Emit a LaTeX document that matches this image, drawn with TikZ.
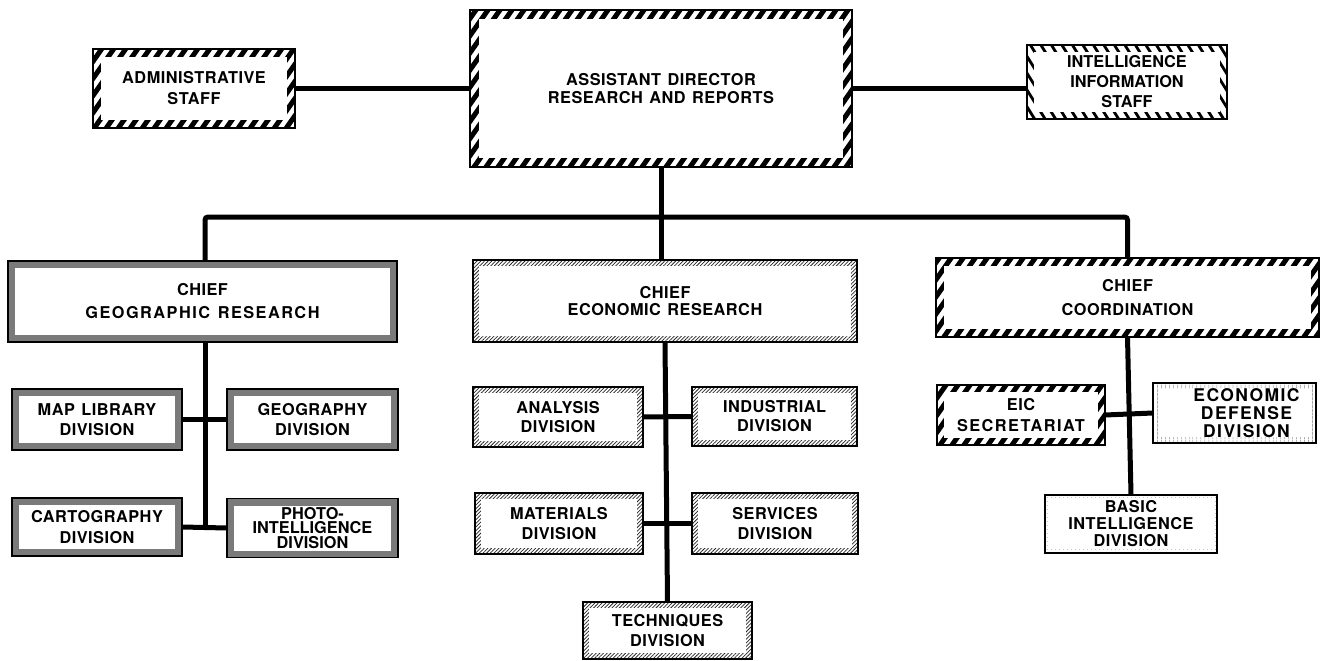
\documentclass[tikz,border=0pt]{standalone}
\usepackage{fontspec}
\usetikzlibrary{patterns.meta}
\newfontfamily\lblfont{TeX Gyre Heros}[LetterSpace=3,WordSpace=1.3]
\newcommand\lbl[1]{\lblfont\bfseries\fontsize{16.3}{#1}\selectfont}
\newcommand\lsp[1]{\addfontfeatures{LetterSpace=#1}}
\tikzset{
  box/.style={draw, inner sep=0pt, outer sep=0pt, align=center, font=\lbl{20}},
  banded/.style 2 args={path picture={
    \fill[#1] (path picture bounding box.south west) rectangle (path picture bounding box.north east);
    \fill[white] ([xshift=#2,yshift=#2]path picture bounding box.south west) rectangle ([xshift=-#2,yshift=-#2]path picture bounding box.north east);}},
  hatch/.style n args={5}{path picture={
    \foreach \k in {0,...,#4} {
      \pgfmathsetmacro\hx{(\k-#4/2)*#2}
      \draw[line width=#3] ([xshift=\hx pt]path picture bounding box.center) ++(#1:-170pt) -- ++(#1:340pt);
    }
    \fill[white] ([xshift=#5,yshift=#5]path picture bounding box.south west) rectangle ([xshift=-#5,yshift=-#5]path picture bounding box.north east);}},
  heavy/.style={box, line width=2.4pt, hatch={55}{12}{5pt}{64}{#1}},
  iisb/.style={box, line width=2pt, hatch={122}{10.5}{2.8pt}{64}{7pt}},
  geob/.style={box, line width=2pt, banded={fill=black!52}{7pt}},
  ecob/.style={box, line width=1.5pt, banded={pattern={Lines[angle=45,distance=2.6pt,line width=0.75pt]}, pattern color=black!85}{6pt}},
  defb/.style={box, line width=1.5pt, banded={pattern={Lines[angle=90,distance=4pt,line width=0.7pt]}, pattern color=black!55}{6pt}},
  basb/.style={box, line width=1.4pt, banded={pattern={Dots[distance=4pt,radius=0.45pt]}, pattern color=black!45}{5pt}},
  conn/.style={line width=5pt},
}
\begin{document}
\begin{tikzpicture}[x=1pt,y=-1pt]
\useasboundingbox[fill=white] (0,0) rectangle (1325,661);
% top level
\node[heavy=9pt, minimum width=382pt, minimum height=157pt, font=\lbl{17.5}] (top) at (661,88.5) {ASSISTANT DIRECTOR\\RESEARCH AND REPORTS};
\node[heavy=8pt, minimum width=202pt, minimum height=79pt, font=\lbl{21}] (admin) at (194,88.5) {ADMINISTRATIVE\\STAFF};
\node[iisb, minimum width=200pt, minimum height=74pt, font={\lbl{20}\lsp{0}}] (iis) at (1127,82) {INTELLIGENCE\\INFORMATION\\STAFF};
% chiefs
\node[geob, minimum width=389pt, minimum height=81pt, font=\lbl{23}] (geo) at (202.5,301.5) {CHIEF\\\lsp{9}GEOGRAPHIC RESEARCH};
\node[ecob, minimum width=384pt, minimum height=82pt, font=\lbl{17}] (eco) at (665,301) {CHIEF\\ECONOMIC RESEARCH};
\node[heavy=8pt, minimum width=383pt, minimum height=79pt, font=\lbl{24}] (coord) at (1127.5,297.5) {CHIEF\\COORDINATION};
% geographic divisions
\node[geob, line width=1.8pt, minimum width=170pt, minimum height=61pt, font=\lbl{20.5}] (map) at (97,419.5) {MAP LIBRARY\\DIVISION};
\node[geob, line width=1.8pt, minimum width=171pt, minimum height=61pt, font=\lbl{20.5}] (geog) at (312.5,419.5) {GEOGRAPHY\\DIVISION};
\node[geob, line width=1.8pt, minimum width=170pt, minimum height=58pt, font=\lbl{20.5}] (cart) at (97,527) {CARTOGRAPHY\\DIVISION};
\node[geob, line width=1.8pt, minimum width=171pt, minimum height=59pt, font={\lbl{14.5}\lsp{0}}] (photo) at (312.5,528) {PHOTO-\\INTELLIGENCE\\DIVISION};
% economic divisions
\node[ecob, minimum width=170pt, minimum height=60pt, font=\lbl{19}] (ana) at (558,417) {ANALYSIS\\DIVISION};
\node[ecob, minimum width=165pt, minimum height=59pt, font=\lbl{19}] (ind) at (774.5,416.5) {INDUSTRIAL\\DIVISION};
\node[ecob, minimum width=168pt, minimum height=61pt, font=\lbl{20}] (mat) at (559,523.5) {MATERIALS\\DIVISION};
\node[ecob, minimum width=166pt, minimum height=61pt, font=\lbl{20}] (ser) at (775,523.5) {SERVICES\\DIVISION};
\node[ecob, minimum width=169pt, minimum height=57pt, font=\lbl{20}] (tech) at (667.5,630.5) {TECHNIQUES\\DIVISION};
% coordination divisions
\node[heavy=7pt, minimum width=168pt, minimum height=60pt, font=\lbl{21.5}] (eic) at (1021,415) {EIC\\\lsp{9}SECRETARIAT};
\node[defb, minimum width=163pt, minimum height=60pt, font={\lbl{18}\fontsize{17.5}{18}\selectfont\lsp{8}}] (def) at (1234.5,413) {\hspace*{24pt}ECONOMIC\\\hspace*{24pt}DEFENSE\\\hspace*{24pt}DIVISION};
\node[basb, minimum width=172pt, minimum height=58pt, font=\lbl{17}] (bas) at (1131,524) {BASIC\\INTELLIGENCE\\DIVISION};
% connectors
\coordinate (barL) at (205,217);
\draw[conn] (admin.east) -- (admin.east -| top.west);
\draw[conn] (top.east |- admin.east) -- (iis.west |- admin.east);
\draw[conn] (top.south) -- (top.south |- eco.north);
\draw[conn, rounded corners=3pt] (barL |- geo.north) -- (barL) -- (barL -| coord.north) -- (coord.north);
\draw[conn] (barL |- geo.south) -- (barL |- cart.east);
\draw[conn] (map.east) -- (geog.west);
\draw[conn] (cart.east) -- (photo.west);
\draw[conn] (eco.south) -- (tech.north);
\draw[conn] (ana.east) -- (ind.west);
\draw[conn] (mat.east) -- (ser.west);
\draw[conn] (coord.south) -- (bas.north);
\draw[conn] (eic.east) -- (def.west);
\end{tikzpicture}
\end{document}
